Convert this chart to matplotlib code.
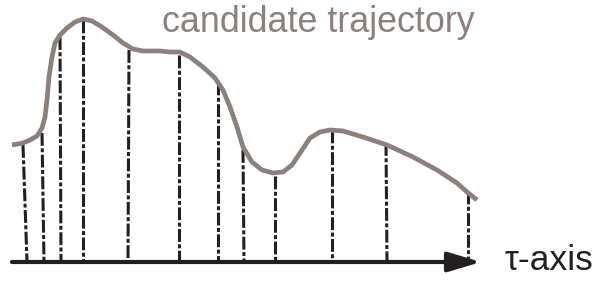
import matplotlib
matplotlib.use("Agg")
import matplotlib.pyplot as plt
from matplotlib.patches import FancyArrowPatch

plt.rcParams['font.family'] = ['Liberation Sans', 'DejaVu Sans']

# candidate trajectory (x, y in picture pixels, y down)
curve_x = [12, 23, 30, 37, 42, 45, 47, 49, 52, 55, 60, 67, 75, 83, 92, 102,
           113, 123, 133, 143, 150, 160, 170, 180, 190, 203, 215, 223, 230,
           237, 243, 252, 262, 273, 283, 292, 302, 310, 320, 330, 343, 363,
           387, 413, 437, 457, 467, 477]
curve_y = [145, 143, 140, 136, 128, 117, 100, 77, 57, 43, 35, 28, 22, 19, 21, 27,
           35, 43, 49, 51, 51, 51, 52, 52, 57, 67, 78, 90, 107,
           127, 147, 162, 170, 173, 172, 165, 150, 138, 132, 130, 131, 137,
           145, 157, 170, 183, 192, 200]

# sampling lines on the tau-axis
sample_x_top = [23, 42, 60, 83, 129, 179, 218, 243, 275, 332, 386, 468]
sample_x_bottom = [27, 44, 61, 83, 128, 179, 218, 244, 275, 332, 387, 468]
sample_top = [145, 133, 37, 20, 50, 55, 82, 150, 176, 130, 143, 191]

axis_y = 262
axis_start, axis_end = 12, 481

title = "candidate trajectory"
axis_label = "\u03c4-axis"

grey = '#8c807d'
black = '#231f20'

fig = plt.figure(figsize=(6.0, 2.83), dpi=100)
ax = fig.add_axes([0, 0, 1, 1])
ax.set_xlim(0, 600)
ax.set_ylim(283, 0)
ax.axis('off')

for xt, xb, yt in zip(sample_x_top, sample_x_bottom, sample_top):
    ax.plot([xt, xb], [yt, axis_y], color=black, lw=2.2,
            dashes=(4.2, 0.8, 1.3, 0.8), solid_capstyle='butt')

ax.plot(curve_x, curve_y, color=grey, lw=3.4, solid_joinstyle='round',
        solid_capstyle='butt', zorder=3)

arr = FancyArrowPatch((axis_start, axis_y), (axis_end, axis_y),
                      arrowstyle='-|>,head_length=20,head_width=6',
                      mutation_scale=1, lw=3.0, color=black,
                      shrinkA=0, shrinkB=0, zorder=4)
ax.add_patch(arr)

ax.text(162, 32, title, color=grey, fontsize=25.8, ha='left', va='baseline')
ax.text(505, 270, axis_label, color=black, fontsize=25.5, ha='left', va='baseline')

fig.savefig('out.png', dpi=100)
